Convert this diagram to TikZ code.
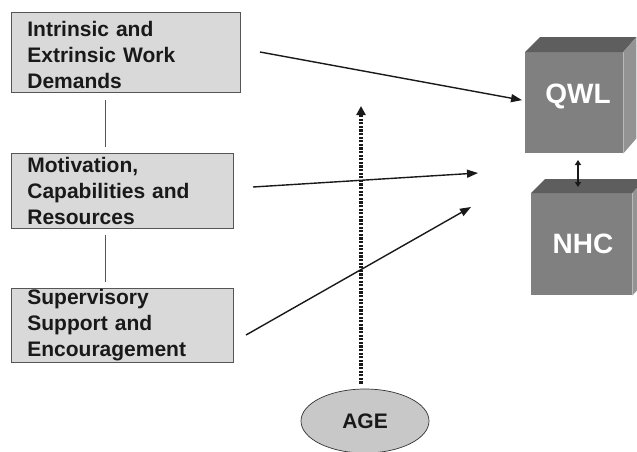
\documentclass[tikz,border=0pt]{standalone}
\usepackage{fontspec}
\setmainfont{Liberation Sans}
\usetikzlibrary{arrows.meta,shapes.geometric,calc}
\definecolor{boxfill}{HTML}{D9D9D9}
\definecolor{boxline}{HTML}{555555}
\definecolor{cubefront}{HTML}{808080}
\definecolor{cubetop}{HTML}{5E5E5E}
\definecolor{cubeside}{HTML}{939393}
\definecolor{agefill}{HTML}{C8C8C8}
\begin{document}
\begin{tikzpicture}[x=1pt,y=-1pt,
  factor/.style={rectangle,draw=boxline,line width=0.7pt,fill=boxfill,anchor=north west,
    align=left,inner xsep=16pt,inner ysep=0pt,text=black!90,
    font=\fontsize{21}{26}\selectfont\bfseries},
  cubeface/.style={rectangle,fill=cubefront,anchor=north west,inner sep=0pt},
  cubelabel/.style={text=white,font=\fontsize{28}{30}\selectfont\bfseries},
  arr/.style={line width=1.4pt,black!90,-{Triangle[length=11pt,width=8pt]}},
  dotarr/.style={line width=3.2pt,black!90,dash pattern=on 2.2pt off 1.4pt,-{Triangle[length=9pt,width=9pt]}},
  dblarr/.style={line width=1.3pt,black!90,{Triangle[length=5pt,width=6pt]}-{Triangle[length=5pt,width=6pt]}},
  link/.style={draw=boxline,line width=0.7pt}]
\useasboundingbox (0,0) rectangle (637,451);

% factor boxes
\node[factor,text width=197pt,minimum height=80pt] (b1) at (11,12)
  {\rule{0pt}{21pt}Intrinsic and\\Extrinsic Work\\Demands};
\node[factor,text width=190pt,minimum height=75pt] (b2) at (11,153)
  {Motivation,\\Capabilities and\\Resources};
\node[factor,text width=190pt,minimum height=74pt] (b3) at (11,288)
  {Supervisory\\Support and\\Encouragement};

\draw[link] ($(b1.south west)+(94,7)$) -- ($(b2.north west)+(94,-6)$);
\draw[link] ($(b2.south west)+(94,6)$) -- ($(b3.north west)+(94,-6)$);

% QWL cube
\node[cubeface,minimum width=98pt,minimum height=101pt] (qwl) at (525,52) {};
\fill[cubetop] (qwl.north west) -- ++(15,-15) -- ($(qwl.north east)+(13,-15)$) -- (qwl.north east) -- cycle;
\fill[cubeside] (qwl.north east) -- ++(13,-15) -- ($(qwl.south east)+(13,-15)$) -- (qwl.south east) -- cycle;
\node[cubelabel] (qwlt) at (578,96) {QWL};

% NHC cube
\node[cubeface,minimum width=101pt,minimum height=102pt] (nhc) at (531,193) {};
\fill[cubetop] (nhc.north west) -- ++(14,-14) -- ($(nhc.north east)+(13,-14)$) -- (nhc.north east) -- cycle;
\fill[cubeside] (nhc.north east) -- ++(13,-14) -- ($(nhc.south east)+(13,-14)$) -- (nhc.south east) -- cycle;
\node[cubelabel] (nhct) at (583,244) {NHC};

% AGE
\node[ellipse,draw=black!80,line width=0.7pt,fill=agefill,minimum width=128pt,minimum height=64pt,
  text=black!90,font=\fontsize{21}{24}\selectfont\bfseries] (age) at (365,421) {AGE};

% connectors
\coordinate (a1s) at (260,52);
\coordinate (a2s) at (253,187);
\coordinate (a2e) at (478,173);
\coordinate (a3s) at (246,335);
\coordinate (a3e) at (471,207);
\coordinate (agetip) at (361,106);
\coordinate (d1) at (578,160);
\coordinate (d2) at (578,187);

\draw[arr,shorten >=3pt] (a1s) -- ($(qwl.west)+(0,-2)$);
\draw[arr] (a2s) -- (a2e);
\draw[arr] (a3s) -- (a3e);
\draw[dotarr] ($(age.north)+(-4,-5)$) -- (agetip);
\draw[dblarr] (d1) -- (d2);
\end{tikzpicture}
\end{document}
